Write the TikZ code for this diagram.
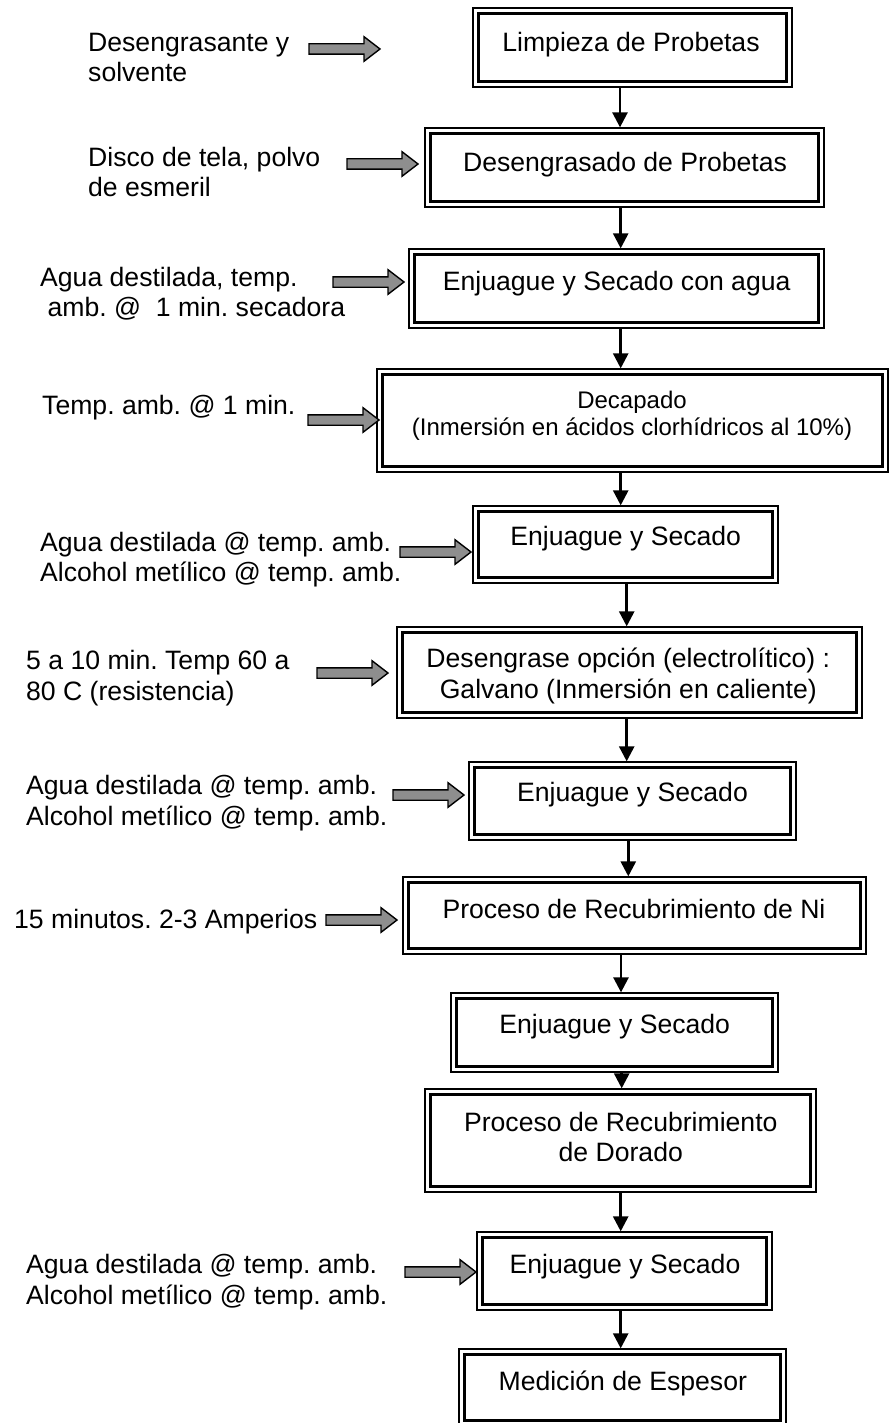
\documentclass[tikz,border=0pt]{standalone}
\usepackage{fontspec}
\setmainfont{Liberation Sans}
\usetikzlibrary{arrows.meta}
\definecolor{arrowgray}{RGB}{142,142,142}
\frenchspacing
\tikzset{
  % process box: thin outer frame with a heavy inner frame
  proc/.style={rectangle, draw, line width=1.3pt, inner sep=0pt,
    path picture={\draw[line width=2.7pt]
      ([shift={(5.5pt,-5.5pt)}]path picture bounding box.north west) rectangle
      ([shift={(-5.5pt,5.5pt)}]path picture bounding box.south east);}},
  txt/.style={inner sep=0pt, font=\fontsize{26.6}{30.6}\selectfont},
  smalltxt/.style={inner sep=0pt, font=\fontsize{24}{26.8}\selectfont},
  side/.style={txt, align=left, anchor=base west},
  flow/.style={line width=2.6pt, -{Triangle[length=15pt,width=15pt]}},
  feed/.pic={\draw[line width=1.4pt, fill=arrowgray, line join=miter]
    (0,-5.2) -- (55,-5.2) -- (55,-12.3) -- (71,0) -- (55,12.3) -- (55,5.2) -- (0,5.2) -- cycle;}
}
\begin{document}
\begin{tikzpicture}[x=1pt,y=-1pt]
\useasboundingbox (0,0) rectangle (890,1423);

% process boxes
\node[proc, minimum width=319pt, minimum height=79pt] (b1) at (632.5,47.5) {};
\node[proc, minimum width=399pt, minimum height=79pt] (b2) at (624.5,167.5) {};
\node[proc, minimum width=415pt, minimum height=79pt] (b3) at (616.5,288.5) {};
\node[proc, minimum width=511pt, minimum height=103pt] (b4) at (632.5,420.5) {};
\node[proc, minimum width=305pt, minimum height=77pt] (b5) at (625.5,544.5) {};
\node[proc, minimum width=465pt, minimum height=91pt] (b6) at (629.5,672.5) {};
\node[proc, minimum width=327pt, minimum height=78pt] (b7) at (632.5,801) {};
\node[proc, minimum width=463pt, minimum height=77pt] (b8) at (634.5,915.5) {};
\node[proc, minimum width=327pt, minimum height=79pt] (b9) at (614.5,1032.5) {};
\node[proc, minimum width=391pt, minimum height=103pt] (b10) at (620.5,1140.5) {};
\node[proc, minimum width=295pt, minimum height=78pt] (b11) at (624.5,1271) {};
\node[proc, minimum width=327pt, minimum height=77pt] (b12) at (622.5,1387.5) {};

% box texts (multi-line nodes sit on the baseline of their last line)
\node[txt, anchor=base] (t1) at (631,52) {Limpieza de Probetas};
\node[txt, anchor=base] (t2) at (625,171.7) {Desengrasado de Probetas};
\node[txt, anchor=base] (t3) at (616.7,290) {Enjuague y Secado con agua};
\node[smalltxt, anchor=base, align=center] (t4) at (632,435) {Decapado\\(Inmersión en ácidos clorhídricos al 10\%)};
\node[txt, anchor=base] (t5) at (625.7,545) {Enjuague y Secado};
\node[txt, anchor=base, align=center] (t6) at (628.3,698.3) {Desengrase opción (electrolítico) :\\Galvano (Inmersión en caliente)};
\node[txt, anchor=base] (t7) at (632.5,801.7) {Enjuague y Secado};
\node[txt, anchor=base] (t8) at (634,918.3) {Proceso de Recubrimiento de Ni};
\node[txt, anchor=base] (t9) at (614.7,1033.3) {Enjuague y Secado};
\node[txt, anchor=base, align=center] (t10) at (620.8,1161.7) {Proceso de Recubrimiento\\de Dorado};
\node[txt, anchor=base] (t11) at (625,1273.3) {Enjuague y Secado};
\node[txt, anchor=base] (t12) at (622.8,1390) {Medición de Espesor};

% main flow
\draw[flow] (620,0 |- b1.south) -- (620,0 |- b2.north);
\draw[flow] (620.7,0 |- b2.south) -- (620.7,0 |- b3.north);
\draw[flow] (620.7,0 |- b3.south) -- (620.7,0 |- b4.north);
\draw[flow] (620.7,0 |- b4.south) -- (620.7,0 |- b5.north);
\draw[flow] (626.7,0 |- b5.south) -- (626.7,0 |- b6.north);
\draw[flow] (626.7,0 |- b6.south) -- (626.7,0 |- b7.north);
\draw[flow] (628.3,0 |- b7.south) -- (628.3,0 |- b8.north);
\draw[flow] (621,0 |- b8.south) -- (621,0 |- b9.north);
\draw[flow] (621.7,0 |- b9.south) -- (621.7,0 |- b10.north);
\draw[flow] (620.7,0 |- b10.south) -- (620.7,0 |- b11.north);
\draw[flow] (620.7,0 |- b11.south) -- (620.7,0 |- b12.north);

% inputs on the left
\node[side] (s1) at (88,81.7) {Desengrasante y\\solvente};
\node[side] (s2) at (88,196.7) {Disco de tela, polvo\\de esmeril};
\node[side] (s3) at (40,316.7) {Agua destilada, temp.\\\hspace*{0.278em}amb. @\ \ 1 min. secadora};
\node[side] (s4) at (42,414) {Temp. amb. @ 1 min.};
\node[side] (s5) at (40,581.7) {Agua destilada @ temp. amb.\\Alcohol metílico @ temp. amb.};
\node[side] (s6) at (26,700) {5 a 10 min. Temp 60 a\\80 C (resistencia)};
\node[side] (s7) at (26,825) {Agua destilada @ temp. amb.\\Alcohol metílico @ temp. amb.};
\node[side] (s8) at (14,928.3) {15 minutos. 2-3 Amperios};
\node[side] (s9) at (26,1304) {Agua destilada @ temp. amb.\\Alcohol metílico @ temp. amb.};

% grey feed arrows
\pic at (309,49) {feed};
\pic at (347,164) {feed};
\pic at (333,282) {feed};
\pic at (308,420) {feed};
\pic at (400,552) {feed};
\pic at (317,673) {feed};
\pic at (393,795) {feed};
\pic at (326,920) {feed};
\pic at (405,1272) {feed};
\end{tikzpicture}
\end{document}
